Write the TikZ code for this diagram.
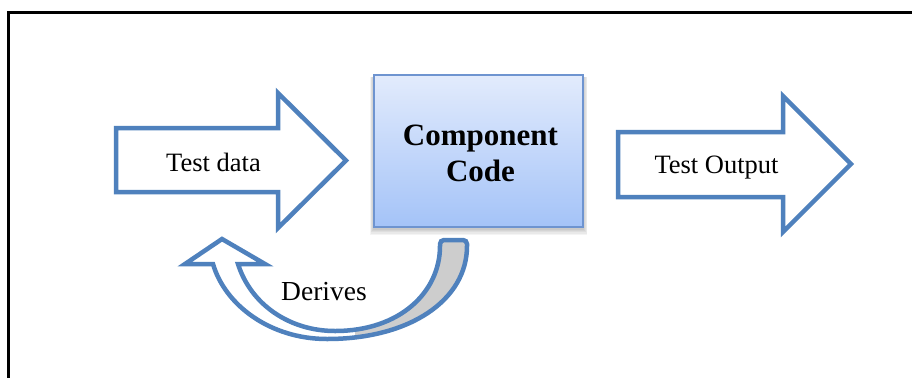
\documentclass[tikz,border=0pt]{standalone}
\usepackage{fontspec}
\setmainfont{Liberation Serif}
\definecolor{shapeblue}{RGB}{79,129,189}
\definecolor{boxedge}{RGB}{110,148,208}
\definecolor{boxtop}{RGB}{226,235,252}
\definecolor{boxbottom}{RGB}{164,195,248}
\definecolor{backgray}{RGB}{205,205,205}
\begin{document}
\begin{tikzpicture}[x=1pt,y=-1pt,
  blockarrow/.style={draw=shapeblue, line width=4.5pt, fill=white, line join=miter},
  plainlabel/.style={font=\fontsize{26.5}{30}\selectfont, inner sep=0pt, anchor=base},
  boldlabel/.style={font=\bfseries\fontsize{31}{36}\selectfont, inner sep=0pt, anchor=base},
]
\useasboundingbox (0,0) rectangle (912,378);
\fill[white] (0,0) rectangle (912,378);

% outer frame (open to the right and bottom)
\draw[line width=2.3pt] (912,12.5) -- (8.5,12.5) -- (8.5,378);

% input block arrow
\draw[blockarrow] (116,128) -- (278,128) -- (278,93) -- (346,160.5)
  -- (278,228) -- (278,192) -- (116,192) -- cycle;
\node[plainlabel] (testdata) at (213.5,171) {Test data};

% output block arrow
\draw[blockarrow] (618,132) -- (783,132) -- (783,96) -- (851,164)
  -- (783,232) -- (783,197) -- (618,197) -- cycle;
\node[plainlabel] (testoutput) at (716.5,173) {Test Output};

% soft shadow under the component box
\foreach \i in {1,...,6}
  \fill[black, opacity=0.045] (375-\i*0.9,77) rectangle (582+\i*0.9,227+\i*1.3);

% component box
\node[draw=boxedge, line width=1.2pt, top color=boxtop, bottom color=boxbottom,
      minimum width=209pt, minimum height=152pt, inner sep=0pt] (code) at (478.5,151) {};
\node[boldlabel] (comp) at (480.5,145) {Component};
\node[boldlabel] (codeword) at (480.5,181.5) {Code};

% curved feedback arrow: white band, grey back part, outline
\fill[white] (222,239) -- (265,264) -- (238,264)
  .. controls (251,305) and (290,331) .. (335,331)
  .. controls (400,331) and (440,292) .. (440,246)
  [rounded corners=4pt] -- (440,240) -- (467,240) [sharp corners] -- (467,246)
  .. controls (467,300) and (410,339) .. (327,339)
  .. controls (270,339) and (225,305) .. (213,264) -- (185,264) -- cycle;
\begin{scope}
  \clip (355,200) rectangle (480,350);
  \fill[backgray] (222,239) -- (265,264) -- (238,264)
    .. controls (251,305) and (290,331) .. (335,331)
    .. controls (400,331) and (440,292) .. (440,246)
    [rounded corners=4pt] -- (440,240) -- (467,240) [sharp corners] -- (467,246)
    .. controls (467,300) and (410,339) .. (327,339)
    .. controls (270,339) and (225,305) .. (213,264) -- (185,264) -- cycle;
\end{scope}
\draw[shapeblue, line width=4.5pt, line join=miter] (222,239) -- (265,264) -- (238,264)
  .. controls (251,305) and (290,331) .. (335,331)
  .. controls (400,331) and (440,292) .. (440,246)
  [rounded corners=4pt] -- (440,240) -- (467,240) [sharp corners] -- (467,246)
  .. controls (467,300) and (410,339) .. (327,339)
  .. controls (270,339) and (225,305) .. (213,264) -- (185,264) -- cycle;
\node[plainlabel, font=\fontsize{27.5}{30}\selectfont] (derives) at (324,300) {Derives};
\end{tikzpicture}
\end{document}
